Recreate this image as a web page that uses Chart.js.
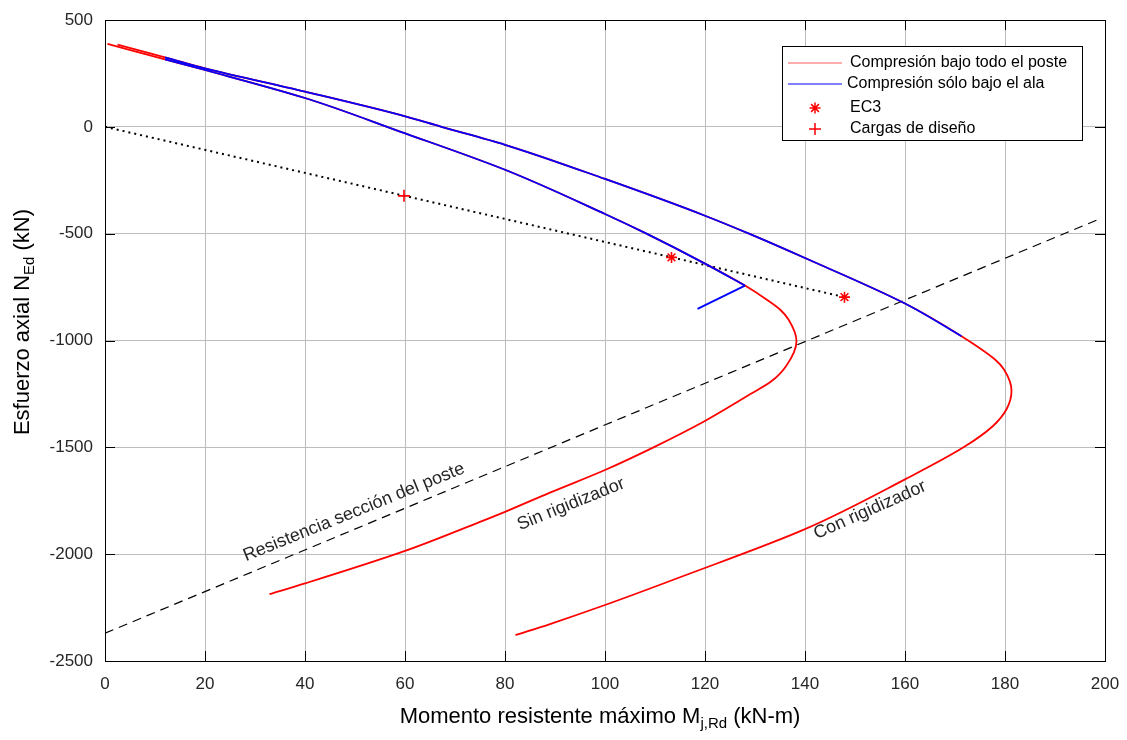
<!DOCTYPE html>
<html lang="es">
<head>
<meta charset="UTF-8">
<title>Esfuerzo axial vs momento resistente</title>
<script src="https://cdn.jsdelivr.net/npm/chart.js"></script>
<style>
    body { margin: 0; background: #fff; }
    #wrap { width: 1127px; height: 740px; position: relative; }
</style>
</head>
<body>
<div id="wrap"><canvas id="chart"></canvas></div>
<script>
// --- datos (M en kN-m, N en kN) ---
// Con rigidizador, compresion bajo todo el poste (rojo)
const mOuter = [2.5, 12, 20, 40, 59, 67.3, 80, 100, 120, 128.8, 140, 160, 171.3, 178, 179.8, 181.3, 180.3, 177.6, 171.7, 160, 140, 115, 100, 89, 82.1];
const nOuter = [385, 325, 274, 165, 56, 0, -84, -244, -416, -500, -614, -827, -980, -1089, -1136, -1235, -1322, -1400, -1500, -1650, -1883, -2108, -2238, -2327, -2379];
// Sin rigidizador, compresion bajo todo el poste (rojo)
const mInner = [0.5, 12, 20, 40, 59, 80, 100, 108.3, 120, 128, 132.3, 135, 136.7, 138.3, 136.2, 133.2, 129, 119.8, 109.7, 100, 89, 80, 75, 60, 40, 32.9];
const nInner = [388, 316, 266, 135, -22, -201, -408, -500, -640, -743, -808, -855, -902, -1003, -1120, -1192, -1252, -1379, -1500, -1606, -1712, -1802, -1849, -1985, -2137, -2187];
// compresion solo bajo el ala (azul)
const mOuterAla = [12, 20, 40, 59, 67.3, 80, 100, 120, 128.8, 140, 160, 171.3];
const nOuterAla = [325, 274, 165, 56, 0, -84, -244, -416, -500, -614, -827, -980];
const mInnerAla = [12, 20, 40, 59, 80, 100, 108.3, 120, 128];
const nInnerAla = [316, 266, 135, -22, -201, -408, -500, -640, -743];
const mInnerAlaEnd = [128, 118.5];
const nInnerAlaEnd = [-743, -852];
// puntos EC3 y cargas de diseno
const ec3M = [113.3, 147.9];
const ec3N = [-611, -797];
const designM = [59.8];
const designN = [-323];
// recta de carga (punteada) y resistencia de la seccion (discontinua)
const loadM = [0, 147.9];
const loadN = [0, -797];
const resM = [0, 198.6];
const resN = [-2370, -434];
// ejes
const xTicks = [0, 20, 40, 60, 80, 100, 120, 140, 160, 180, 200];
const yTicks = [-2500, -2000, -1500, -1000, -500, 0, 500];
// textos sobre el grafico
const noteText = ['Resistencia sección del poste', 'Sin rigidizador', 'Con rigidizador'];
const noteM = [49.8, 93.2, 153];
const noteN = [-1804, -1766, -1794];
const noteAngle = [-22, -22, -24];
const legendLabels = ['Compresión bajo todo el poste', 'Compresión sólo bajo el ala', 'EC3', 'Cargas de diseño'];

const FONT = "'Liberation Sans', Arial, Helvetica, sans-serif";
const toXY = (ms, ns) => ms.map((m, i) => ({ x: m, y: ns[i] }));

function lineSet(label, ms, ns, color, extra) {
    return Object.assign({
        label: label,
        data: toXY(ms, ns),
        showLine: true,
        borderColor: color,
        backgroundColor: color,
        borderWidth: 1.8,
        pointRadius: 0,
        tension: 0,
        fill: false
    }, extra || {});
}
// curvas suaves: N decrece siempre a lo largo del camino -> spline monotona en y
const smooth = { indexAxis: 'y', cubicInterpolationMode: 'monotone' };

const datasets = [
    lineSet('EC3', ec3M, ec3N, 'red', { showLine: false, pointStyle: 'star', pointRadius: 5.5, pointBorderWidth: 1.6, order: -1 }),
    lineSet('Cargas de diseño', designM, designN, 'red', { showLine: false, pointStyle: 'cross', pointRadius: 6, pointBorderWidth: 1.6, order: -1 }),
    lineSet('Compresión sólo bajo el ala', mOuterAla, nOuterAla, '#0000ff', Object.assign({ order: 0 }, smooth)),
    lineSet('Compresión sólo bajo el ala', mInnerAla, nInnerAla, '#0000ff', Object.assign({ order: 0 }, smooth)),
    lineSet('Compresión sólo bajo el ala', mInnerAlaEnd, nInnerAlaEnd, '#0000ff', { order: 0 }),
    lineSet('Compresión bajo todo el poste', mOuter, nOuter, '#ff0000', Object.assign({ order: 1 }, smooth)),
    lineSet('Compresión bajo todo el poste', mInner, nInner, '#ff0000', Object.assign({ order: 1 }, smooth)),
    lineSet('recta de carga', loadM, loadN, '#000', { order: 2, borderWidth: 2, borderDash: [2, 4] }),
    lineSet('resistencia', resM, resN, '#000', { order: 2, borderWidth: 1.2, borderDash: [9, 6] })
];

// texto con subindice: partes [texto, esSub]
function drawSubText(ctx, parts, size, x, y, align) {
    const subSize = Math.round(size * 0.68);
    let total = 0;
    parts.forEach(p => {
        ctx.font = (p[1] ? subSize : size) + 'px ' + FONT;
        total += ctx.measureText(p[0]).width;
    });
    let cx = align === 'center' ? x - total / 2 : x;
    ctx.textAlign = 'left';
    ctx.textBaseline = 'alphabetic';
    parts.forEach(p => {
        ctx.font = (p[1] ? subSize : size) + 'px ' + FONT;
        ctx.fillText(p[0], cx, y + (p[1] ? size * 0.22 : 0));
        cx += ctx.measureText(p[0]).width;
    });
}

const decorPlugin = {
    id: 'decor',
    afterDraw(chart) {
        const ctx = chart.ctx;
        const a = chart.chartArea;
        const sx = chart.scales.x, sy = chart.scales.y;
        ctx.save();

        // marco y marcas interiores
        ctx.strokeStyle = '#000';
        ctx.lineWidth = 1;
        ctx.strokeRect(a.left + 0.5, a.top + 0.5, a.right - a.left, a.bottom - a.top);
        ctx.beginPath();
        xTicks.forEach(v => {
            const px = Math.round(sx.getPixelForValue(v)) + 0.5;
            ctx.moveTo(px, a.bottom); ctx.lineTo(px, a.bottom - 10);
            ctx.moveTo(px, a.top); ctx.lineTo(px, a.top + 10);
        });
        yTicks.forEach(v => {
            const py = Math.round(sy.getPixelForValue(v)) + 0.5;
            ctx.moveTo(a.left, py); ctx.lineTo(a.left + 10, py);
            ctx.moveTo(a.right, py); ctx.lineTo(a.right - 10, py);
        });
        ctx.stroke();

        // textos inclinados
        ctx.fillStyle = '#262626';
        ctx.font = '18px ' + FONT;
        ctx.textAlign = 'center';
        ctx.textBaseline = 'middle';
        noteText.forEach((t, i) => {
            ctx.save();
            ctx.translate(sx.getPixelForValue(noteM[i]), sy.getPixelForValue(noteN[i]));
            ctx.rotate(noteAngle[i] * Math.PI / 180);
            ctx.fillText(t, 0, 0);
            ctx.restore();
        });

        // leyenda
        const lx = 782, ly = 46, lw = 300, lh = 94;
        ctx.fillStyle = '#fff';
        ctx.fillRect(lx, ly, lw, lh);
        ctx.strokeStyle = '#000';
        ctx.lineWidth = 1;
        ctx.strokeRect(lx + 0.5, ly + 0.5, lw, lh);
        const rows = [63, 84, 108, 129];
        ctx.lineWidth = 1.2;
        ctx.strokeStyle = '#ff5a5a';
        ctx.beginPath(); ctx.moveTo(788, rows[0]); ctx.lineTo(842, rows[0]); ctx.stroke();
        ctx.strokeStyle = '#0000ff';
        ctx.beginPath(); ctx.moveTo(788, rows[1]); ctx.lineTo(842, rows[1]); ctx.stroke();
        ctx.strokeStyle = 'red';
        ctx.lineWidth = 1.5;
        ctx.beginPath();
        const r = 5.5, d = r * Math.SQRT1_2;
        ctx.moveTo(815 - r, rows[2]); ctx.lineTo(815 + r, rows[2]);
        ctx.moveTo(815, rows[2] - r); ctx.lineTo(815, rows[2] + r);
        ctx.moveTo(815 - d, rows[2] - d); ctx.lineTo(815 + d, rows[2] + d);
        ctx.moveTo(815 - d, rows[2] + d); ctx.lineTo(815 + d, rows[2] - d);
        ctx.moveTo(809, rows[3]); ctx.lineTo(821, rows[3]);
        ctx.moveTo(815, rows[3] - 6); ctx.lineTo(815, rows[3] + 6);
        ctx.stroke();
        ctx.fillStyle = '#000';
        ctx.font = '16px ' + FONT;
        ctx.textAlign = 'left';
        ctx.textBaseline = 'middle';
        const tx = [850, 847, 850, 850];
        legendLabels.forEach((t, i) => ctx.fillText(t, tx[i], rows[i]));

        // titulos de ejes
        ctx.fillStyle = '#000';
        drawSubText(ctx, [['Momento resistente máximo M', false], ['j,Rd', true], [' (kN-m)', false]], 22, 600, 723, 'center');
        ctx.save();
        ctx.translate(29, 322);
        ctx.rotate(-Math.PI / 2);
        drawSubText(ctx, [['Esfuerzo axial N', false], ['Ed', true], [' (kN)', false]], 22, 0, 0, 'center');
        ctx.restore();

        ctx.restore();
    }
};

new Chart(document.getElementById('chart'), {
    type: 'scatter',
    data: { datasets: datasets },
    options: {
        responsive: true,
        maintainAspectRatio: false,
        animation: false,
        layout: { padding: { top: 20, right: 22, left: 0, bottom: 0 } },
        plugins: { legend: { display: false }, tooltip: { enabled: false } },
        scales: {
            x: {
                type: 'linear', min: 0, max: 200,
                afterBuildTicks: s => { s.ticks = xTicks.map(v => ({ value: v })); },
                afterFit: s => { s.height = 79; s.paddingLeft = 0; s.paddingRight = 0; },
                grid: { color: '#bcbcbc', lineWidth: 1, drawTicks: false },
                border: { display: true, color: '#000' },
                ticks: { color: '#262626', padding: 13, font: { family: FONT, size: 17 }, callback: v => String(v) }
            },
            y: {
                type: 'linear', min: -2500, max: 500,
                afterBuildTicks: s => { s.ticks = yTicks.map(v => ({ value: v })); },
                afterFit: s => { s.width = 105; s.paddingTop = 0; s.paddingBottom = 0; },
                grid: { color: '#bcbcbc', lineWidth: 1, drawTicks: false },
                border: { display: true, color: '#000' },
                ticks: { color: '#262626', padding: 12, font: { family: FONT, size: 17 }, callback: v => String(v) }
            }
        }
    },
    plugins: [decorPlugin]
});
</script>
</body>
</html>
